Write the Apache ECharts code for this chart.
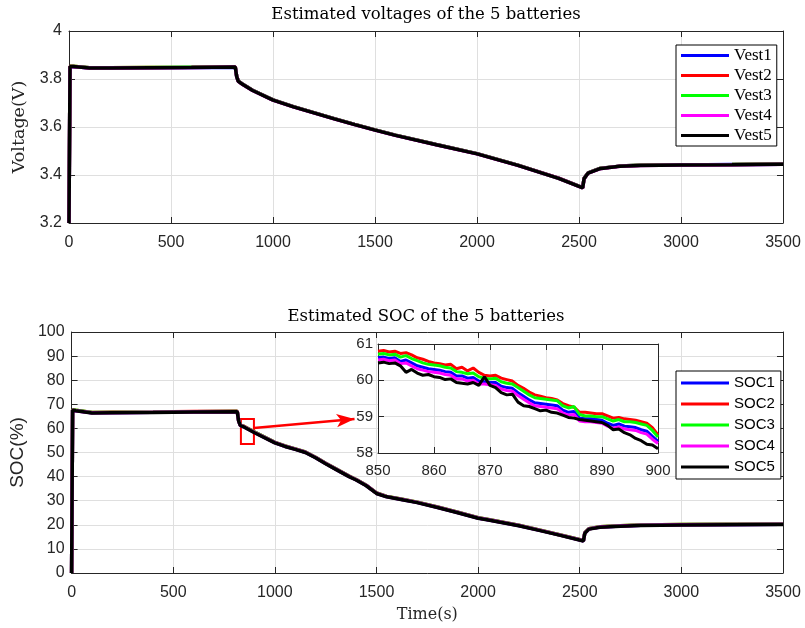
<!DOCTYPE html>
<html>
<head>
<meta charset="utf-8">
<script src="https://cdn.jsdelivr.net/npm/echarts@6/dist/echarts.min.js"></script>
<style>
html, body { margin: 0; padding: 0; background: #fff; }
#chart { width: 805px; height: 628px; }
</style>
</head>
<body>
<div id="chart"></div>
<script>
// ---- 数据 ----
// 电压曲线时间点 (s)
const tVolt = [0, 5, 20, 100, 200, 400, 600, 815, 822, 830, 850, 900, 1000, 1100, 1200, 1300, 1400, 1500, 1600, 1800, 2000, 2200, 2400, 2518, 2525, 2545, 2600, 2700, 2800, 3000, 3250, 3500];
const vest1 = [3.2, 3.851, 3.851, 3.847, 3.846, 3.847, 3.848, 3.849, 3.811, 3.791, 3.779, 3.753, 3.713, 3.685, 3.660, 3.635, 3.611, 3.588, 3.566, 3.527, 3.489, 3.441, 3.387, 3.347, 3.386, 3.409, 3.427, 3.437, 3.441, 3.442, 3.444, 3.445];
const vest2 = [3.2, 3.853, 3.853, 3.847, 3.847, 3.848, 3.849, 3.851, 3.811, 3.791, 3.779, 3.753, 3.713, 3.685, 3.660, 3.635, 3.611, 3.588, 3.566, 3.527, 3.489, 3.441, 3.387, 3.347, 3.386, 3.409, 3.427, 3.437, 3.441, 3.443, 3.444, 3.446];
const vest3 = [3.2, 3.852, 3.853, 3.847, 3.847, 3.848, 3.849, 3.850, 3.811, 3.791, 3.779, 3.753, 3.713, 3.685, 3.660, 3.635, 3.611, 3.588, 3.566, 3.527, 3.489, 3.441, 3.386, 3.347, 3.386, 3.409, 3.427, 3.437, 3.441, 3.443, 3.444, 3.446];
const vest4 = [3.2, 3.851, 3.852, 3.846, 3.846, 3.847, 3.848, 3.850, 3.810, 3.790, 3.778, 3.752, 3.712, 3.684, 3.659, 3.634, 3.610, 3.587, 3.565, 3.526, 3.488, 3.440, 3.386, 3.346, 3.385, 3.408, 3.426, 3.436, 3.440, 3.442, 3.443, 3.445];
const vest5 = [3.2, 3.852, 3.852, 3.846, 3.846, 3.847, 3.848, 3.850, 3.810, 3.790, 3.778, 3.752, 3.712, 3.684, 3.659, 3.634, 3.610, 3.587, 3.565, 3.526, 3.488, 3.440, 3.386, 3.346, 3.385, 3.408, 3.426, 3.436, 3.440, 3.442, 3.443, 3.445];

// SOC 曲线时间点 (s)
const tSoc = [0, 5, 20, 100, 200, 400, 600, 815, 822, 830, 850, 900, 1000, 1050, 1100, 1150, 1200, 1250, 1300, 1365, 1400, 1450, 1500, 1550, 1620, 1700, 1800, 1900, 2000, 2050, 2200, 2300, 2400, 2518, 2525, 2545, 2600, 2700, 2800, 3000, 3250, 3500];
const soc1 = [0, 67.6, 67.4, 66.5, 66.6, 66.7, 66.9, 67.0, 63.1, 61.3, 60.6, 58.4, 54.1, 52.6, 51.4, 50.1, 47.9, 45.4, 43.1, 40.1, 38.7, 36.3, 33.1, 31.7, 30.6, 29.3, 27.3, 25.1, 22.8, 22.1, 19.7, 17.8, 15.8, 13.4, 16.6, 18.3, 19.1, 19.5, 19.8, 20.0, 20.1, 20.2];
const soc2 = [0, 67.7, 67.5, 66.6, 66.7, 66.8, 67.0, 67.1, 63.2, 61.4, 60.8, 58.5, 54.2, 52.7, 51.5, 50.2, 48.0, 45.5, 43.2, 40.2, 38.8, 36.4, 33.2, 31.8, 30.7, 29.4, 27.4, 25.2, 22.9, 22.2, 19.8, 17.9, 15.9, 13.5, 16.7, 18.4, 19.2, 19.6, 19.9, 20.1, 20.2, 20.3];
const soc3 = [0, 67.6, 67.5, 66.6, 66.6, 66.8, 66.9, 67.0, 63.2, 61.4, 60.7, 58.5, 54.2, 52.7, 51.5, 50.2, 48.0, 45.5, 43.2, 40.2, 38.8, 36.4, 33.2, 31.8, 30.7, 29.4, 27.4, 25.2, 22.9, 22.2, 19.8, 17.9, 15.9, 13.5, 16.7, 18.4, 19.2, 19.6, 19.9, 20.1, 20.2, 20.3];
const soc4 = [0, 67.5, 67.3, 66.5, 66.5, 66.7, 66.8, 66.9, 63.1, 61.3, 60.6, 58.3, 54.1, 52.6, 51.4, 50.1, 47.9, 45.4, 43.1, 40.1, 38.7, 36.3, 33.1, 31.7, 30.6, 29.3, 27.3, 25.1, 22.8, 22.1, 19.7, 17.8, 15.8, 13.4, 16.6, 18.3, 19.1, 19.5, 19.8, 20.0, 20.1, 20.2];
const soc5 = [0, 67.5, 67.3, 66.4, 66.5, 66.6, 66.8, 66.9, 63.0, 61.2, 60.5, 58.2, 54.0, 52.5, 51.3, 50.0, 47.8, 45.3, 43.0, 40.0, 38.6, 36.2, 33.0, 31.6, 30.5, 29.2, 27.2, 25.0, 22.7, 22.0, 19.6, 17.7, 15.7, 13.3, 16.5, 18.2, 19.0, 19.4, 19.7, 19.9, 20.0, 20.1];

// 局部放大 850~900 s
const tZoom = [850, 851, 852, 853, 854, 855, 856, 857, 858, 859, 860, 861, 862, 863, 864, 865, 866, 867, 868, 869, 870, 871, 872, 873, 874, 875, 876, 877, 878, 879, 880, 881, 882, 883, 884, 885, 886, 887, 888, 889, 890, 891, 892, 893, 894, 895, 896, 897, 898, 899, 900];
const zoomSoc1 = [60.62, 60.64, 60.60, 60.62, 60.52, 60.56, 60.48, 60.40, 60.36, 60.32, 60.30, 60.28, 60.24, 60.22, 60.12, 60.12, 60.06, 60.08, 59.98, 59.96, 59.94, 59.94, 59.84, 59.80, 59.78, 59.66, 59.56, 59.46, 59.38, 59.36, 59.34, 59.32, 59.30, 59.18, 59.12, 59.14, 58.96, 58.94, 58.94, 58.92, 58.90, 58.82, 58.76, 58.80, 58.74, 58.72, 58.70, 58.64, 58.60, 58.46, 58.32];
const zoomSoc2 = [60.80, 60.82, 60.78, 60.80, 60.74, 60.76, 60.70, 60.62, 60.58, 60.52, 60.48, 60.46, 60.42, 60.44, 60.32, 60.36, 60.26, 60.34, 60.22, 60.14, 60.12, 60.14, 60.06, 60.02, 59.98, 59.86, 59.78, 59.68, 59.60, 59.56, 59.52, 59.50, 59.46, 59.36, 59.30, 59.26, 59.12, 59.12, 59.10, 59.08, 59.08, 59.02, 58.96, 58.98, 58.94, 58.92, 58.90, 58.86, 58.82, 58.70, 58.50];
const zoomSoc3 = [60.72, 60.74, 60.70, 60.72, 60.64, 60.68, 60.60, 60.54, 60.48, 60.44, 60.42, 60.40, 60.36, 60.34, 60.24, 60.22, 60.18, 60.20, 60.10, 60.06, 60.04, 60.06, 59.96, 59.92, 59.90, 59.80, 59.70, 59.60, 59.52, 59.50, 59.48, 59.46, 59.44, 59.30, 59.24, 59.28, 59.06, 59.02, 59.02, 59.00, 59.00, 58.94, 58.88, 58.92, 58.86, 58.86, 58.84, 58.80, 58.76, 58.62, 58.44];
const zoomSoc4 = [60.56, 60.58, 60.54, 60.56, 60.46, 60.48, 60.40, 60.32, 60.28, 60.24, 60.22, 60.20, 60.16, 60.14, 60.04, 60.04, 59.98, 60.00, 59.90, 59.90, 59.88, 59.86, 59.76, 59.72, 59.70, 59.58, 59.48, 59.38, 59.30, 59.28, 59.26, 59.24, 59.22, 59.10, 59.04, 59.06, 58.88, 58.86, 58.86, 58.84, 58.82, 58.74, 58.68, 58.72, 58.66, 58.64, 58.62, 58.56, 58.52, 58.38, 58.26];
const zoomSoc5 = [60.48, 60.50, 60.46, 60.48, 60.40, 60.22, 60.30, 60.20, 60.14, 60.16, 60.10, 60.08, 60.02, 60.04, 59.94, 59.92, 59.90, 59.94, 59.86, 60.10, 59.86, 59.80, 59.66, 59.60, 59.62, 59.40, 59.30, 59.28, 59.22, 59.16, 59.18, 59.12, 59.10, 59.04, 58.98, 58.96, 58.92, 58.90, 58.88, 58.86, 58.84, 58.76, 58.64, 58.66, 58.56, 58.50, 58.40, 58.34, 58.24, 58.22, 58.12];

const voltNames = ['Vest1', 'Vest2', 'Vest3', 'Vest4', 'Vest5'];
const socNames = ['SOC1', 'SOC2', 'SOC3', 'SOC4', 'SOC5'];
const voltData = [vest1, vest2, vest3, vest4, vest5];
const socData = [soc1, soc2, soc3, soc4, soc5];
const zoomData = [zoomSoc1, zoomSoc2, zoomSoc3, zoomSoc4, zoomSoc5];
const lineColors = ['#0000ff', '#ff0000', '#00ff00', '#ff00ff', '#000000'];

const SANS = '"Liberation Sans", Arial, sans-serif';
const SERIF = '"DejaVu Serif", serif';
const LEGEND_SERIF = '"Liberation Serif", "DejaVu Serif", serif';
const AXIS_COLOR = '#262626';
const GRID_COLOR = '#dfdfdf';

const pair = (ts, vs) => ts.map((t, i) => [t, vs[i]]);
const plainNum = v => String(+(+v).toFixed(3));

// 主坐标轴（带标签和网格线）
const mainAxis = (gridIndex, position, min, max, interval, fontSize, margin, z) => ({
  type: 'value',
  gridIndex,
  position,
  min,
  max,
  interval,
  z: z || 0,
  axisLine: { show: true, onZero: false, lineStyle: { color: AXIS_COLOR, width: 1 } },
  axisTick: { show: true, inside: true, length: 6, lineStyle: { color: AXIS_COLOR } },
  axisLabel: { color: AXIS_COLOR, fontFamily: SANS, fontSize: fontSize || 16, margin: margin || 8, formatter: plainNum },
  splitLine: { show: true, lineStyle: { color: GRID_COLOR, width: 1 } }
});

// 对侧坐标轴（仅刻度，模拟 box on）
const boxAxis = (gridIndex, position, min, max, interval, z) => ({
  type: 'value',
  gridIndex,
  position,
  min,
  max,
  interval,
  z: z || 0,
  axisLine: { show: true, onZero: false, lineStyle: { color: AXIS_COLOR, width: 1 } },
  axisTick: { show: true, inside: true, length: 6, lineStyle: { color: AXIS_COLOR } },
  axisLabel: { show: false },
  splitLine: { show: false }
});

const xAxes = [
  mainAxis(0, 'bottom', 0, 3500, 500, 16, 12),
  boxAxis(0, 'top', 0, 3500, 500),
  Object.assign(mainAxis(1, 'bottom', 0, 3500, 500, 16, 12), {
    name: 'Time(s)',
    nameLocation: 'middle',
    nameGap: 34,
    nameTextStyle: { fontFamily: SERIF, fontSize: 16, color: AXIS_COLOR }
  }),
  boxAxis(1, 'top', 0, 3500, 500),
  mainAxis(2, 'bottom', 850, 900, 10, 15, 10, 6),
  boxAxis(2, 'top', 850, 900, 10, 6)
];

const yAxes = [
  Object.assign(mainAxis(0, 'left', 3.2, 4, 0.2, 16, 7), {
    name: 'Voltage(V)',
    nameLocation: 'middle',
    nameGap: 41,
    nameTextStyle: { fontFamily: SERIF, fontSize: 17.5, color: AXIS_COLOR }
  }),
  boxAxis(0, 'right', 3.2, 4, 0.2),
  Object.assign(mainAxis(1, 'left', 0, 100, 10, 16, 7), {
    name: 'SOC(%)',
    nameLocation: 'middle',
    nameGap: 42,
    nameTextStyle: { fontFamily: SANS, fontSize: 19, color: AXIS_COLOR }
  }),
  boxAxis(1, 'right', 0, 100, 10),
  mainAxis(2, 'left', 58, 61, 1, 15, 5, 6),
  boxAxis(2, 'right', 58, 61, 1, 6)
];

const series = [];
voltNames.forEach((name, i) => {
  series.push({
    name,
    type: 'line',
    xAxisIndex: 0,
    yAxisIndex: 0,
    data: pair(tVolt, voltData[i]),
    symbol: 'none',
    lineStyle: { color: lineColors[i], width: 3.5 },
    itemStyle: { color: lineColors[i] },
    animation: false
  });
});
socNames.forEach((name, i) => {
  const s = {
    name,
    type: 'line',
    xAxisIndex: 2,
    yAxisIndex: 2,
    data: pair(tSoc, socData[i]),
    symbol: 'none',
    lineStyle: { color: lineColors[i], width: 3.5 },
    itemStyle: { color: lineColors[i] },
    animation: false
  };
  if (i === 4) {
    // 红色框 + 箭头 指向局部放大图
    s.markArea = {
      silent: true,
      itemStyle: { color: 'rgba(0,0,0,0)', borderColor: '#ff0000', borderWidth: 2 },
      data: [[{ coord: [833, 53.5] }, { coord: [897, 63.9] }]]
    };
    s.markLine = {
      silent: true,
      symbol: ['none', 'arrow'],
      symbolSize: [10, 18],
      label: { show: false },
      lineStyle: { color: '#ff0000', width: 2.5, type: 'solid' },
      data: [[{ coord: [897, 60.2] }, { coord: [1392, 63.9] }]]
    };
  }
  series.push(s);
});
socNames.forEach((name, i) => {
  series.push({
    name,
    type: 'line',
    xAxisIndex: 4,
    yAxisIndex: 4,
    data: pair(tZoom, zoomData[i]),
    symbol: 'none',
    z: 10,
    lineStyle: { color: lineColors[i], width: 3 },
    itemStyle: { color: lineColors[i] },
    animation: false
  });
});

const chart = echarts.init(document.getElementById('chart'), null, { renderer: 'canvas' });

const legendBase = {
  orient: 'vertical',
  left: 676,
  icon: 'rect',
  itemWidth: 48,
  itemHeight: 3,
  itemGap: 3,
  itemTextGap: 5,
  backgroundColor: '#ffffff',
  borderColor: '#000000',
  borderWidth: 1,
  selectedMode: false,
  z: 20
};

const option = {
  backgroundColor: '#ffffff',
  animation: false,
  grid: [
    { left: 69, top: 31, width: 714, height: 192, containLabel: false },
    { left: 69, top: 332, width: 714, height: 241, containLabel: false },
    { left: 378, top: 344, width: 280, height: 109, containLabel: false, show: true, backgroundColor: '#ffffff', borderWidth: 0, z: 5 }
  ],
  graphic: [
    {
      type: 'text', x: 426, y: 15, z: 20,
      style: { text: 'Estimated voltages of the 5 batteries', font: '16.5px ' + SERIF, fill: '#000', align: 'center', verticalAlign: 'middle' }
    },
    {
      type: 'text', x: 426, y: 317, z: 20,
      style: { text: 'Estimated SOC of the 5 batteries', font: '16.5px ' + SERIF, fill: '#000', align: 'center', verticalAlign: 'middle' }
    }
  ],
  legend: [
    Object.assign({}, legendBase, {
      data: voltNames,
      top: 45,
      padding: [2, 5, 2, 5],
      textStyle: { fontFamily: LEGEND_SERIF, fontSize: 17, color: '#000', lineHeight: 16 }
    }),
    Object.assign({}, legendBase, {
      data: socNames,
      top: 371,
      padding: [3, 6, 3, 5],
      textStyle: { fontFamily: SANS, fontSize: 15, color: '#000', lineHeight: 18 }
    })
  ],
  xAxis: xAxes,
  yAxis: yAxes,
  series
};

chart.setOption(option);
</script>
</body>
</html>
